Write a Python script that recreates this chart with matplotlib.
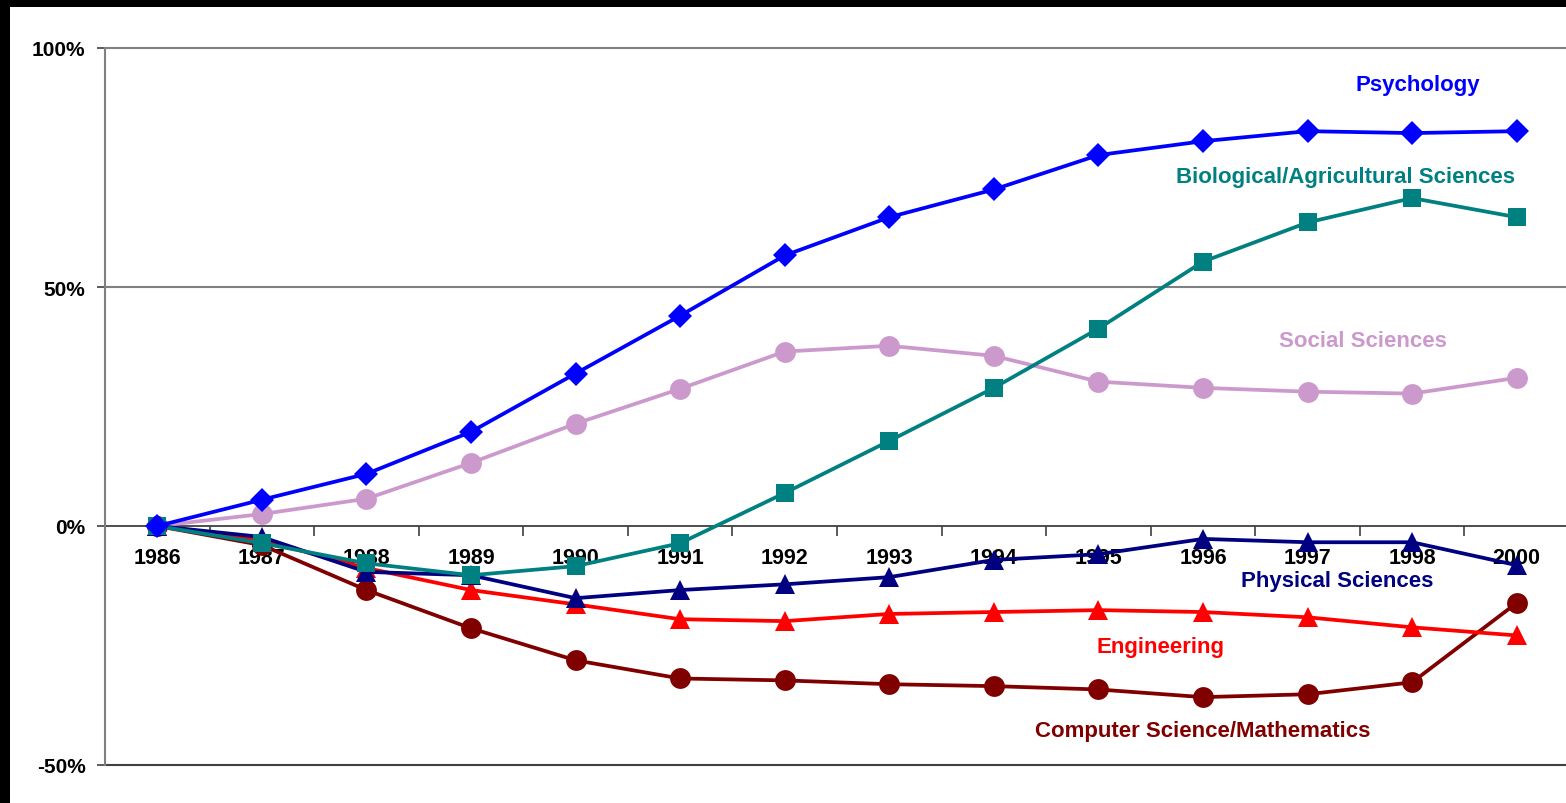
import matplotlib
matplotlib.use("Agg")
import matplotlib.pyplot as plt
from matplotlib.patches import Rectangle
from matplotlib.ticker import FixedLocator

plt.rcParams['font.family'] = ['Liberation Sans', 'DejaVu Sans']

years = ["1986", "1987", "1988", "1989", "1990", "1991", "1992", "1993",
         "1994", "1995", "1996", "1997", "1998", "2000"]

psychology = [0, 5.5, 10.9, 19.7, 31.9, 44.0, 56.6, 64.6, 70.4, 77.6, 80.5, 82.6, 82.2, 82.6]
bio_ag = [0, -3.6, -7.8, -10.3, -8.4, -3.6, 6.9, 17.8, 28.9, 41.3, 55.3, 63.5, 68.6, 64.6]
social = [0, 2.5, 5.7, 13.2, 21.4, 28.7, 36.5, 37.7, 35.6, 30.2, 28.9, 28.1, 27.7, 31.0]
physical = [0, -2.3, -9.6, -10.3, -15.1, -13.4, -12.2, -10.7, -7.1, -5.9, -2.7, -3.4, -3.4, -8.2]
engineering = [0, -3.0, -8.8, -13.4, -16.4, -19.5, -19.9, -18.4, -18.0, -17.6, -18.0, -19.1, -21.2, -22.9]
cs_math = [0, -4.0, -13.4, -21.4, -28.1, -31.9, -32.3, -33.1, -33.5, -34.2, -35.8, -35.2, -32.7, -16.1]

y_ticks = [-50, 0, 50, 100]
y_tick_labels = ["-50%", "0%", "50%", "100%"]

fig = plt.figure(figsize=(15.66, 8.04), dpi=100)
fig.patch.set_facecolor("white")
# black frame bands (top and left)
fig.patches.append(Rectangle((0, 1 - 8 / 804), 1, 8 / 804, transform=fig.transFigure,
                             facecolor="black", edgecolor="none", zorder=0))
fig.patches.append(Rectangle((0, 0), 10 / 1566, 1, transform=fig.transFigure,
                             facecolor="black", edgecolor="none", zorder=0))

left = 105 / 1566
right = 1569 / 1566
bottom = 1 - 766 / 804
top = 1 - 49 / 804
ax = fig.add_axes([left, bottom, right - left, top - bottom])
ax.set_facecolor("white")

x = list(range(len(years)))
ax.set_xlim(-0.5, len(years) - 0.5)
ax.set_ylim(-50, 100)

# gridlines
for gv, col in [(100, "#808080"), (50, "#808080"), (-50, "#404040")]:
    ax.axhline(gv, color=col, lw=1.5, zorder=1, clip_on=False)
# x axis at 0
ax.axhline(0, color="#404040", lw=1.3, zorder=1)

for sp in ["top", "right", "bottom"]:
    ax.spines[sp].set_visible(False)
ax.spines["left"].set_color("#808080")
ax.spines["left"].set_linewidth(1.5)

ax.yaxis.set_major_locator(FixedLocator(y_ticks))
ax.set_yticklabels(y_tick_labels, fontsize=15, fontweight="bold")
ax.tick_params(axis="y", length=6, width=1.2, color="#404040", pad=8)
ax.set_xticks([])

# category boundary ticks on the zero line
for b in range(len(years)):
    ax.plot([b - 0.5, b - 0.5], [0, -2.0], color="#404040", lw=1.2, zorder=1,
            solid_capstyle="butt")
# category labels below zero line
for i, yr in enumerate(years):
    ax.text(i, -6.5, yr, ha="center", va="center", fontsize=15.5, fontweight="bold",
            color="black", zorder=2)

lw = 2.7
ax.plot(x, social, color="#CC99CC", lw=lw, marker="o", ms=15, mew=0, zorder=3)
ax.plot(x, cs_math, color="#800000", lw=lw, marker="o", ms=15, mew=0, zorder=3)
ax.plot(x, engineering, color="#FF0000", lw=lw, marker="^", ms=15, mew=0, zorder=4)
ax.plot(x, physical, color="#000080", lw=lw, marker="^", ms=15, mew=0, zorder=5)
ax.plot(x, bio_ag, color="#008080", lw=lw, marker="s", ms=12.5, mew=0, zorder=6)
ax.plot(x, psychology, color="#0000FF", lw=lw, marker="D", ms=12, mew=0, zorder=7)

def fig_text(px, py, s, color):
    fig.text(px / 1566, 1 - py / 804, s, ha="center", va="center", fontsize=16,
             fontweight="bold", color=color)

fig_text(1418, 86, "Psychology", "#0000FF")
fig_text(1345, 178, "Biological/Agricultural Sciences", "#008080")
fig_text(1363, 342, "Social Sciences", "#CC99CC")
fig_text(1337, 582, "Physical Sciences", "#000080")
fig_text(1161, 648, "Engineering", "#FF0000")
fig_text(1203, 732, "Computer Science/Mathematics", "#800000")

fig.savefig("out.png", dpi=100, facecolor="white")
